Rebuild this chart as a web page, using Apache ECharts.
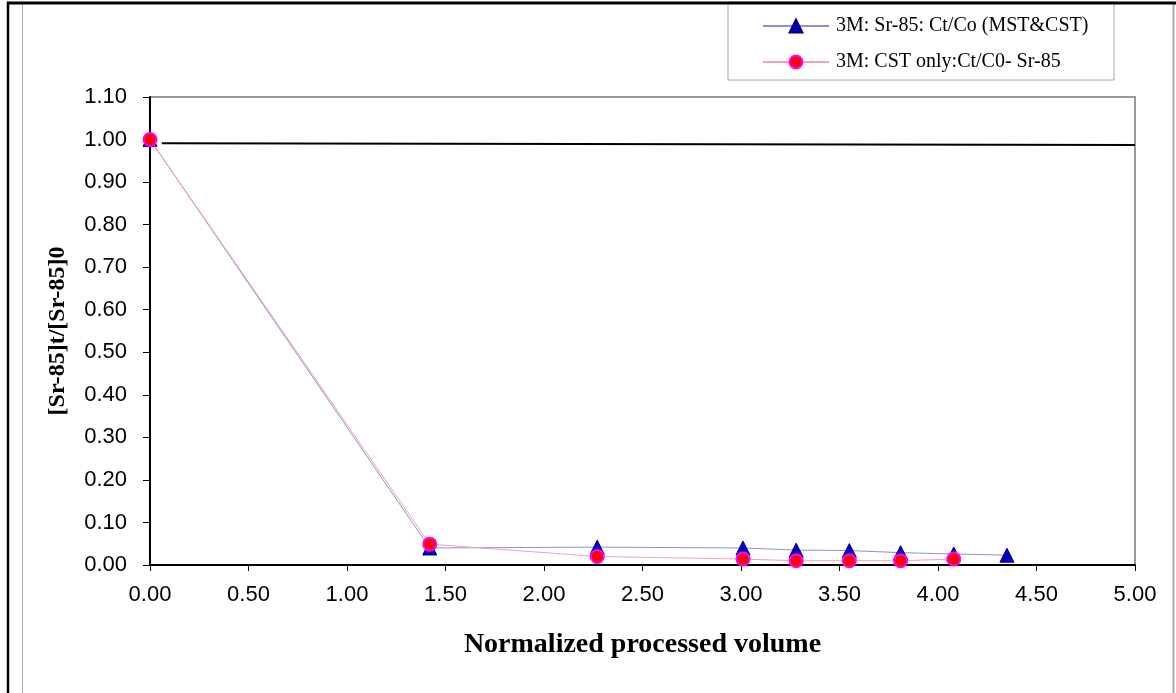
<!DOCTYPE html>
<html>
<head>
<meta charset="utf-8">
<script src="https://cdn.jsdelivr.net/npm/echarts@6/dist/echarts.min.js"></script>
<style>html,body{margin:0;padding:0;background:#fff}#c{width:1176px;height:693px}</style>
</head>
<body>
<div id="c"></div>
<script>
const xTicks = ['0.00','0.50','1.00','1.50','2.00','2.50','3.00','3.50','4.00','4.50','5.00'];
const yTicks = ['0.00','0.10','0.20','0.30','0.40','0.50','0.60','0.70','0.80','0.90','1.00','1.10'];
const seriesNames = ['3M: Sr-85: Ct/Co (MST&CST)', '3M: CST only:Ct/C0- Sr-85'];
const mstCstX = [0, 1.42, 2.27, 3.01, 3.28, 3.55, 3.81, 4.08, 4.35];
const mstCstY = [1.0, 0.040, 0.042, 0.040, 0.035, 0.034, 0.029, 0.026, 0.023];
const cstX = [0, 1.42, 2.27, 3.01, 3.28, 3.55, 3.81, 4.08];
const cstY = [1.0, 0.049, 0.020, 0.014, 0.010, 0.010, 0.010, 0.014];
const refLineX = [0.06, 5.0];
const refLineY = [0.991, 0.987];

const pair = (xs, ys) => xs.map((x, i) => [x, ys[i]]);

const chart = echarts.init(document.getElementById('c'));
chart.setOption({
  animation: false,
  backgroundColor: '#fff',
  grid: { left: 150, right: 41, top: 97, bottom: 128, show: true, borderColor: '#999', borderWidth: 2, backgroundColor: 'transparent' },
  legend: {
    data: seriesNames,
    orient: 'vertical',
    left: 762, top: 16, padding: 0,
    itemWidth: 66, itemHeight: 16, itemGap: 16,
    textStyle: { fontFamily: 'Liberation Serif', fontSize: 20, color: '#000', padding: [0,0,0,2] }
  },
  xAxis: {
    type: 'value', min: 0, max: 5, interval: 0.5,
    name: 'Normalized processed volume', nameLocation: 'middle', nameGap: 66,
    nameTextStyle: { fontFamily: 'Liberation Serif', fontWeight: 'bold', fontSize: 28, color: '#000' },
    axisLine: { show: true, lineStyle: { color: '#000', width: 2 } },
    axisTick: { show: true, length: 6, lineStyle: { color: '#000' } },
    axisLabel: { margin: 19, fontFamily: 'Liberation Sans', fontSize: 22, color: '#000', formatter: (v) => xTicks[Math.round(v / 0.5)] },
    splitLine: { show: false }
  },
  yAxis: {
    type: 'value', min: 0, max: 1.1, interval: 0.1,
    name: '[Sr-85]t/[Sr-85]0', nameLocation: 'middle', nameGap: 80,
    nameTextStyle: { fontFamily: 'Liberation Serif', fontWeight: 'bold', fontSize: 24, color: '#000' },
    axisLine: { show: true, lineStyle: { color: '#000', width: 2 } },
    axisTick: { show: true, length: 7, lineStyle: { color: '#000' } },
    axisLabel: { margin: 23, fontFamily: 'Liberation Sans', fontSize: 22, color: '#000', formatter: (v) => yTicks[Math.round(v / 0.1)] },
    splitLine: { show: false }
  },
  series: [
    {
      name: 'ref', type: 'line', data: pair(refLineX, refLineY), symbol: 'none',
      lineStyle: { color: '#000', width: 2 }, silent: true, z: 1
    },
    {
      name: seriesNames[0], type: 'line', data: pair(mstCstX, mstCstY),
      symbol: 'triangle', symbolSize: 14,
      lineStyle: { color: '#9090d0', width: 1 },
      itemStyle: { color: '#0000c0', borderColor: '#000080', borderWidth: 1 }, z: 3
    },
    {
      name: seriesNames[1], type: 'line', data: pair(cstX, cstY),
      symbol: 'circle', symbolSize: 13,
      lineStyle: { color: '#f4a0b8', width: 1 },
      itemStyle: { color: '#ff0000', borderColor: '#ff00ff', borderWidth: 2 }, z: 4
    }
  ],
  graphic: [
    { type: 'rect', shape: { x: 728, y: 2, width: 386, height: 78 }, style: { fill: 'none', stroke: '#aaa', lineWidth: 1 }, z: -1 },
    { type: 'line', shape: { x1: 22.5, y1: 2, x2: 22.5, y2: 693 }, style: { stroke: '#aaa', lineWidth: 1 } },
    { type: 'line', shape: { x1: 1173.5, y1: 2, x2: 1173.5, y2: 693 }, style: { stroke: '#aaa', lineWidth: 2 } },
    { type: 'line', shape: { x1: 8, y1: 2, x2: 8, y2: 693 }, style: { stroke: '#000', lineWidth: 2.5 } },
    { type: 'line', shape: { x1: 7, y1: 3, x2: 1176, y2: 3 }, style: { stroke: '#000', lineWidth: 3 } }
  ]
});
</script>
</body>
</html>
